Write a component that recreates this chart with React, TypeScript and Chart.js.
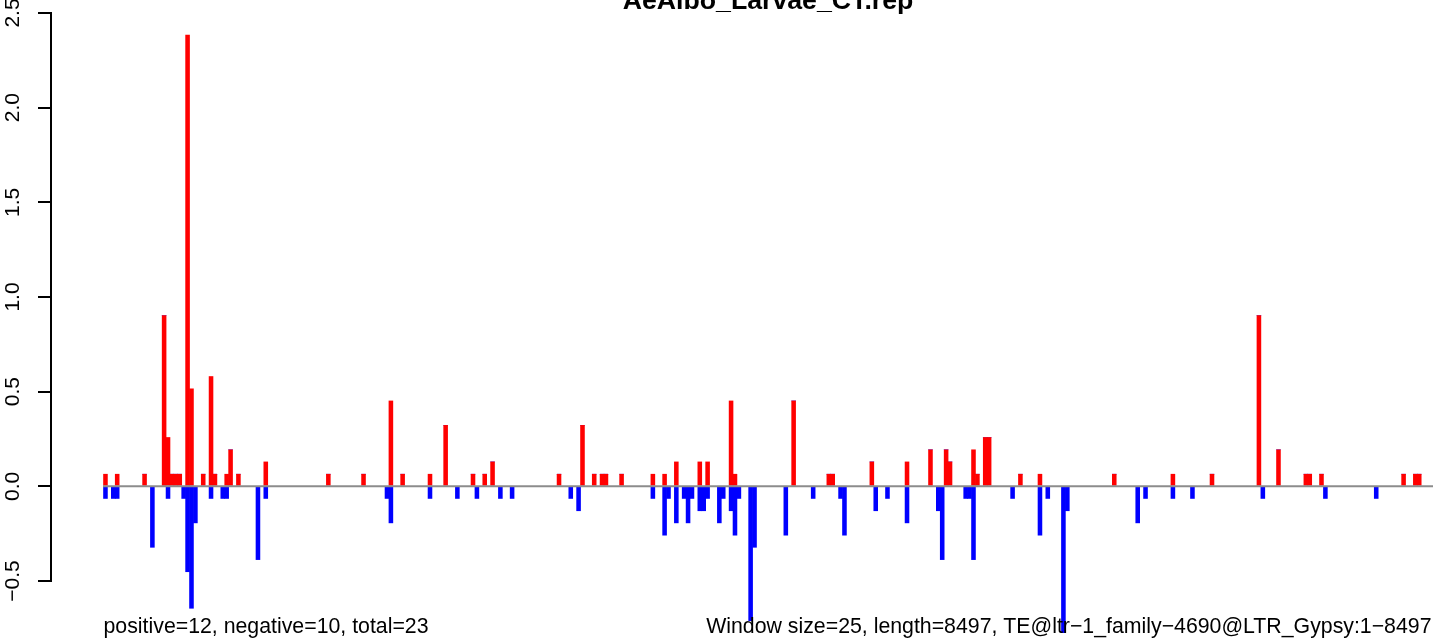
import React, { useEffect, useRef } from 'react';
import { Chart, registerables } from 'chart.js';

Chart.register(...registerables);

const FONT = '"Liberation Sans", Arial, Helvetica, sans-serif';

// Title and annotations
const chartTitle = 'AeAlbo_Larvae_CT.rep';
const leftNote = 'positive=12, negative=10, total=23';
const rightNote = 'Window size=25, length=8497, TE@ltr\u22121_family\u22124690@LTR_Gypsy:1\u22128497';

// 340 windows of 25 bp over 8497 bp
const windowCount = 340;

// Positive (red) windows and their values
const positiveWindows = [
  0, 3, 10, 15, 16, 17, 18, 19, 21, 22, 25, 27, 28, 31, 32, 34, 41, 57, 66, 73,
  76, 83, 87, 94, 97, 99, 116, 122, 125, 127, 128, 132, 140, 143, 146, 152, 154, 160, 161, 176,
  185, 186, 196, 205, 211, 215, 216, 222, 223, 225, 226, 234, 239, 258, 273, 283, 295, 300, 307, 308,
  311, 332, 335, 336,
];
const positiveValues = [
  0.064, 0.064, 0.064, 0.902, 0.258, 0.064, 0.064, 0.064, 2.383, 0.515, 0.064, 0.580, 0.064, 0.064, 0.193, 0.064, 0.129, 0.064, 0.064, 0.451,
  0.064, 0.064, 0.322, 0.064, 0.064, 0.129, 0.064, 0.322, 0.064, 0.064, 0.064, 0.064, 0.064, 0.064, 0.129, 0.129, 0.129, 0.451, 0.064, 0.451,
  0.064, 0.064, 0.129, 0.129, 0.193, 0.193, 0.129, 0.193, 0.064, 0.258, 0.258, 0.064, 0.064, 0.064, 0.064, 0.064, 0.902, 0.193, 0.064, 0.064,
  0.064, 0.064, 0.064, 0.064,
];

// Negative (blue) windows and their values
const negativeWindows = [
  0, 2, 3, 12, 16, 20, 21, 22, 23, 27, 30, 31, 39, 41, 72, 73, 83, 90, 95, 101,
  104, 119, 121, 140, 143, 144, 146, 148, 149, 150, 152, 153, 154, 157, 158, 160, 161, 162, 165, 166,
  174, 181, 188, 189, 197, 200, 205, 213, 214, 220, 221, 222, 232, 239, 241, 245, 246, 264, 266, 273,
  278, 296, 312, 325,
];
const negativeValues = [
  -0.064, -0.064, -0.064, -0.322, -0.064, -0.064, -0.451, -0.644, -0.193, -0.064, -0.064, -0.064, -0.387, -0.064, -0.064, -0.193, -0.064, -0.064, -0.064, -0.064,
  -0.064, -0.064, -0.129, -0.064, -0.258, -0.064, -0.193, -0.064, -0.193, -0.064, -0.129, -0.129, -0.064, -0.193, -0.064, -0.129, -0.258, -0.064, -0.709, -0.322,
  -0.258, -0.064, -0.064, -0.258, -0.129, -0.064, -0.193, -0.129, -0.387, -0.064, -0.064, -0.387, -0.064, -0.258, -0.064, -0.773, -0.129, -0.193, -0.064, -0.064,
  -0.064, -0.064, -0.064, -0.064,
];

// Y axis ticks
const yTicks = [-0.5, 0, 0.5, 1, 1.5, 2, 2.5];

function buildSeries(windows: number[], values: number[]) {
  const full: { x: number; y: number }[] = [];
  for (let i = 0; i < windowCount; i++) full.push({ x: i, y: 0 });
  windows.forEach((w, k) => {
    full[w].y = values[k];
  });
  return full;
}

const decorPlugin = {
  id: 'decor',
  afterDatasetsDraw(chart: any) {
    const { ctx, scales, chartArea } = chart;
    const y0 = scales.y.getPixelForValue(0);
    const xStart = scales.x.getPixelForValue(-0.5);
    ctx.save();
    ctx.strokeStyle = '#8c8c8c';
    ctx.lineWidth = 2;
    ctx.beginPath();
    ctx.moveTo(xStart - 0.5, y0);
    ctx.lineTo(chartArea.right, y0);
    ctx.stroke();
    ctx.restore();
  },
  afterDraw(chart: any) {
    const { ctx, scales, chartArea } = chart;
    const left = scales.x.getPixelForValue(-0.5) - 0.5;
    const right = chartArea.right;
    ctx.save();
    ctx.fillStyle = '#000';
    ctx.textBaseline = 'alphabetic';
    ctx.font = `bold 26.7px ${FONT}`;
    ctx.textAlign = 'center';
    ctx.fillText(chartTitle, (left + right) / 2, 9);
    ctx.font = `21.3px ${FONT}`;
    ctx.textAlign = 'left';
    ctx.fillText(leftNote, left + 0.5, 633);
    ctx.textAlign = 'right';
    ctx.fillText(rightNote, right - 1.5, 633);
    ctx.restore();
  },
};

export default function App() {
  const ref = useRef<HTMLCanvasElement>(null);
  useEffect(() => {
    document.body.style.margin = '0';
    document.body.style.background = '#fff';
    const chart = new Chart(ref.current as HTMLCanvasElement, {
      type: 'bar',
      data: {
        datasets: [
          {
            label: 'positive',
            data: buildSeries(positiveWindows, positiveValues) as any,
            backgroundColor: '#ff0000',
            borderWidth: 0,
            barPercentage: 1,
            categoryPercentage: 1,
            clip: false as any,
          },
          {
            label: 'negative',
            data: buildSeries(negativeWindows, negativeValues) as any,
            backgroundColor: '#0000ff',
            borderWidth: 0,
            barPercentage: 1,
            categoryPercentage: 1,
            clip: false as any,
          },
        ],
      },
      options: {
        responsive: false,
        animation: false,
        events: [],
        layout: { padding: { left: 0, right: 0, top: 13, bottom: 58 } },
        plugins: {
          legend: { display: false },
          tooltip: { enabled: false },
          title: { display: false },
        },
        scales: {
          x: {
            type: 'linear',
            min: -13.93,
            max: 339.52,
            stacked: true,
            offset: false,
            display: false,
            ticks: { stepSize: 50 },
          },
          y: {
            type: 'linear',
            min: -0.5,
            max: 2.5,
            stacked: true,
            afterFit: (s: any) => {
              s.width = 51;
              s.paddingTop = 0;
              s.paddingBottom = 0;
              s.paddingLeft = 0;
              s.paddingRight = 0;
            },
            afterBuildTicks: (s: any) => {
              s.ticks = yTicks.map((v) => ({ value: v }));
            },
            ticks: {
              autoSkip: false,
              minRotation: 90,
              maxRotation: 90,
              padding: 4,
              crossAlign: 'center',
              color: '#000',
              font: { family: FONT, size: 21 },
              callback: (v: any) => Number(v).toFixed(1).replace('-', '\u2212'),
            },
            grid: {
              display: true,
              drawOnChartArea: false,
              drawTicks: true,
              tickLength: 13,
              color: '#000',
              lineWidth: 2,
            },
            border: { display: true, color: '#000', width: 2 },
          },
        },
      } as any,
      plugins: [decorPlugin],
    });
    return () => chart.destroy();
  }, []);
  return (
    <div style={{ position: 'absolute', left: 0, top: 0, width: 1433, height: 639, background: '#fff' }}>
      <canvas ref={ref} width={1433} height={639} style={{ display: 'block' }} />
    </div>
  );
}
